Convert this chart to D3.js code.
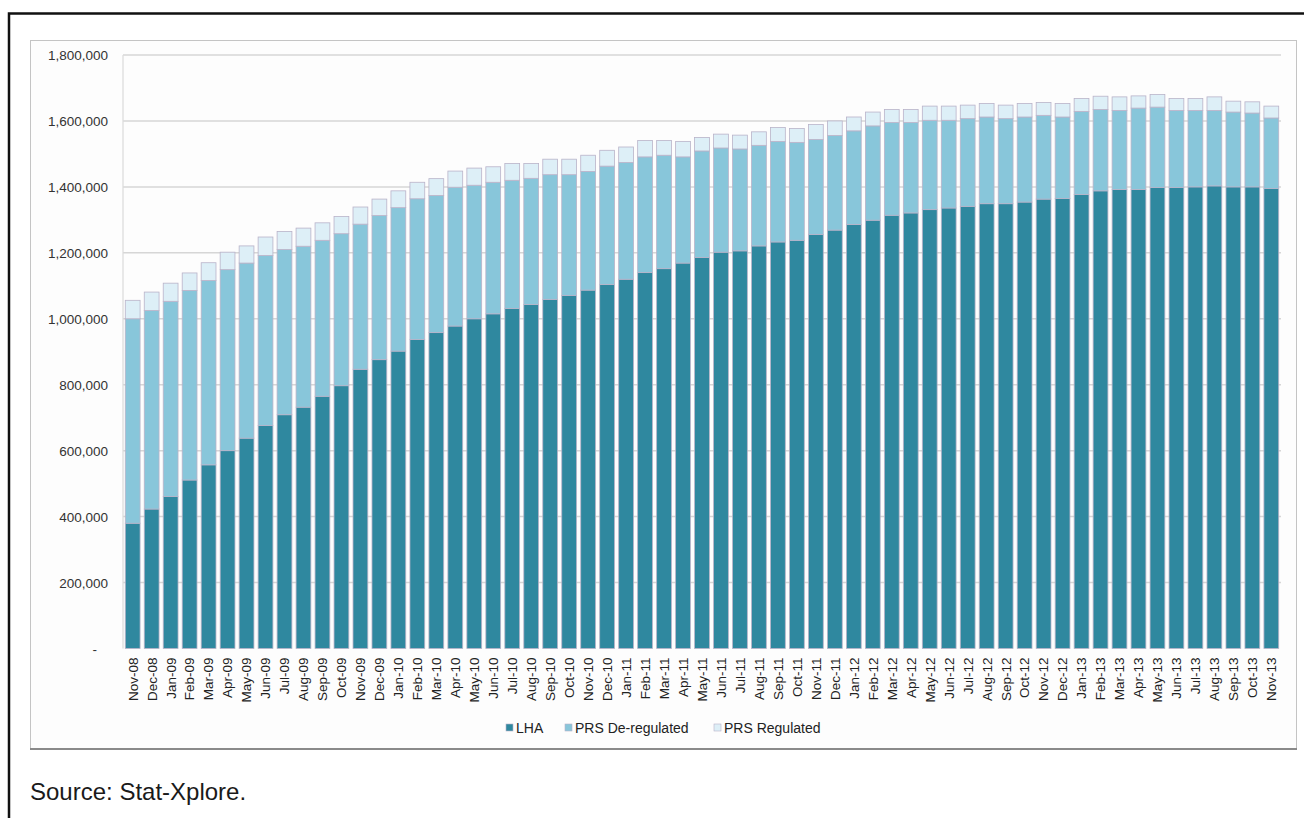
<!DOCTYPE html>
<html>
<head>
<meta charset="utf-8">
<script src="https://cdn.jsdelivr.net/npm/d3@7"></script>
<style>
  html, body { margin: 0; padding: 0; background: #ffffff; }
  svg { display: block; }
</style>
</head>
<body>
<svg id="chart" width="1304" height="818"></svg>
<script>
// Monthly caseload, Nov-08 to Nov-13
const months = [
  "Nov-08","Dec-08","Jan-09","Feb-09","Mar-09","Apr-09","May-09","Jun-09","Jul-09","Aug-09","Sep-09","Oct-09",
  "Nov-09","Dec-09","Jan-10","Feb-10","Mar-10","Apr-10","May-10","Jun-10","Jul-10","Aug-10","Sep-10","Oct-10",
  "Nov-10","Dec-10","Jan-11","Feb-11","Mar-11","Apr-11","May-11","Jun-11","Jul-11","Aug-11","Sep-11","Oct-11",
  "Nov-11","Dec-11","Jan-12","Feb-12","Mar-12","Apr-12","May-12","Jun-12","Jul-12","Aug-12","Sep-12","Oct-12",
  "Nov-12","Dec-12","Jan-13","Feb-13","Mar-13","Apr-13","May-13","Jun-13","Jul-13","Aug-13","Sep-13","Oct-13",
  "Nov-13"
];

// Local Housing Allowance cases (thousands)
const lha = [
  380,423,461,511,557,600,638,676,709,732,765,797,
  847,876,902,937,958,978,1000,1015,1031,1043,1059,1071,
  1087,1104,1120,1140,1152,1169,1186,1202,1206,1221,1233,1238,
  1256,1269,1286,1299,1314,1321,1331,1336,1341,1349,1349,1354,
  1363,1365,1377,1388,1392,1392,1398,1398,1400,1403,1400,1400,
  1395
];

// Private rented sector, de-regulated tenancies (thousands)
const prsDeregulated = [
  620,602,592,575,559,549,531,516,501,488,473,461,
  440,437,435,427,416,421,405,399,389,383,378,366,
  360,359,354,351,344,322,323,316,309,305,305,297,
  288,287,284,286,281,274,271,266,266,263,258,258,
  254,247,252,247,240,247,244,234,232,229,227,224,
  214
];

// Private rented sector, regulated tenancies (thousands)
const prsRegulated = [
  56,56,55,53,54,53,52,56,55,55,53,52,
  52,50,51,50,51,49,52,47,51,45,47,47,
  49,48,47,50,45,47,41,42,42,41,42,42,
  45,44,42,42,40,40,43,43,41,41,41,41,
  39,41,39,40,41,37,38,36,36,41,33,34,
  36
];

const yTicks = [0, 200000, 400000, 600000, 800000, 1000000, 1200000, 1400000, 1600000, 1800000];
const seriesNames = ["LHA", "PRS De-regulated", "PRS Regulated"];
const seriesColors = ["#2f889f", "#88c6da", "#ddeff7"];

const rows = months.map((m, i) => ({
  month: m,
  "LHA": lha[i] * 1000,
  "PRS De-regulated": prsDeregulated[i] * 1000,
  "PRS Regulated": prsRegulated[i] * 1000
}));

const FONT = "Arial, 'Liberation Sans', sans-serif";
const svg = d3.select("#chart");

// outer frame
svg.append("path")
  .attr("d", "M9,830 L9,13.5 L1310,13.5")
  .attr("fill", "none")
  .attr("stroke", "#111")
  .attr("stroke-width", 2.5);

// chart panel
svg.append("rect")
  .attr("x", 30.5).attr("y", 40.5)
  .attr("width", 1266).attr("height", 708)
  .attr("fill", "#fdfdfd")
  .attr("stroke", "#c4c4c4")
  .attr("stroke-width", 1);
svg.append("line")
  .attr("x1", 30).attr("x2", 1297)
  .attr("y1", 749).attr("y2", 749)
  .attr("stroke", "#8a8a8a").attr("stroke-width", 2);

const plot = { left: 123, right: 1281, top: 55, bottom: 648.5 };

const x = d3.scaleBand()
  .domain(months)
  .range([plot.left, plot.right])
  .paddingInner(0.22)
  .paddingOuter(0.12);

const y = d3.scaleLinear()
  .domain([0, 1800000])
  .range([plot.bottom, plot.top]);

// gridlines
svg.append("g")
  .selectAll("line")
  .data(yTicks.filter(t => t > 0))
  .join("line")
  .attr("x1", plot.left).attr("x2", plot.right)
  .attr("y1", d => y(d)).attr("y2", d => y(d))
  .attr("stroke", "#d6d6d6")
  .attr("stroke-width", 1.5);

svg.append("line")
  .attr("x1", plot.left).attr("x2", plot.left)
  .attr("y1", plot.top).attr("y2", plot.bottom)
  .attr("stroke", "#dadada").attr("stroke-width", 1.2);

// y axis labels
const yAxis = d3.axisLeft(y)
  .tickValues(yTicks)
  .tickSize(0)
  .tickPadding(14)
  .tickFormat(d => d === 0 ? "-" : d3.format(",")(d));
const yG = svg.append("g")
  .attr("transform", `translate(${plot.left - 1},0)`)
  .call(yAxis);
yG.select(".domain").remove();
yG.selectAll("text")
  .attr("font-family", FONT)
  .attr("font-size", 13.5)
  .attr("fill", "#333")
  .attr("dy", "0.35em");
yG.selectAll(".tick").filter(d => d === 0).select("text").attr("dx", -11);

// stacked bars
const stack = d3.stack().keys(seriesNames)(rows);
const color = d3.scaleOrdinal().domain(seriesNames).range(seriesColors);

svg.append("g")
  .selectAll("g")
  .data(stack)
  .join("g")
  .attr("fill", d => color(d.key))
  .selectAll("rect")
  .data(d => d)
  .join("rect")
  .attr("x", d => x(d.data.month))
  .attr("width", x.bandwidth())
  .attr("y", d => y(d[1]))
  .attr("height", d => y(d[0]) - y(d[1]))
  .attr("stroke", "#b9b3c9")
  .attr("stroke-width", 0.8);

// x axis labels
const xAxis = d3.axisBottom(x).tickSize(0).tickPadding(0);
const xG = svg.append("g")
  .attr("transform", `translate(0,${plot.bottom + 9})`)
  .call(xAxis);
xG.select(".domain").remove();
xG.selectAll("text")
  .attr("font-family", FONT)
  .attr("font-size", 13.5)
  .attr("fill", "#222")
  .attr("text-anchor", "end")
  .attr("transform", "rotate(-90)")
  .attr("x", 0)
  .attr("y", 0)
  .attr("dy", "0.36em");

// legend
const legendItems = [
  { name: "LHA", x: 506 },
  { name: "PRS De-regulated", x: 565 },
  { name: "PRS Regulated", x: 714 }
];
const lg = svg.append("g");
lg.selectAll("rect")
  .data(legendItems)
  .join("rect")
  .attr("x", d => d.x)
  .attr("y", 724)
  .attr("width", 7).attr("height", 7)
  .attr("fill", d => color(d.name))
  .attr("stroke", "#b9b3c9")
  .attr("stroke-width", 0.6);
lg.selectAll("text")
  .data(legendItems)
  .join("text")
  .attr("x", d => d.x + 10)
  .attr("y", 733)
  .attr("font-family", FONT)
  .attr("font-size", 14)
  .attr("fill", "#222")
  .text(d => d.name);

// source note
svg.append("text")
  .attr("x", 30)
  .attr("y", 800)
  .attr("font-family", FONT)
  .attr("font-size", 24)
  .attr("fill", "#1a1a1a")
  .text("Source: Stat-Xplore.");
</script>
</body>
</html>
